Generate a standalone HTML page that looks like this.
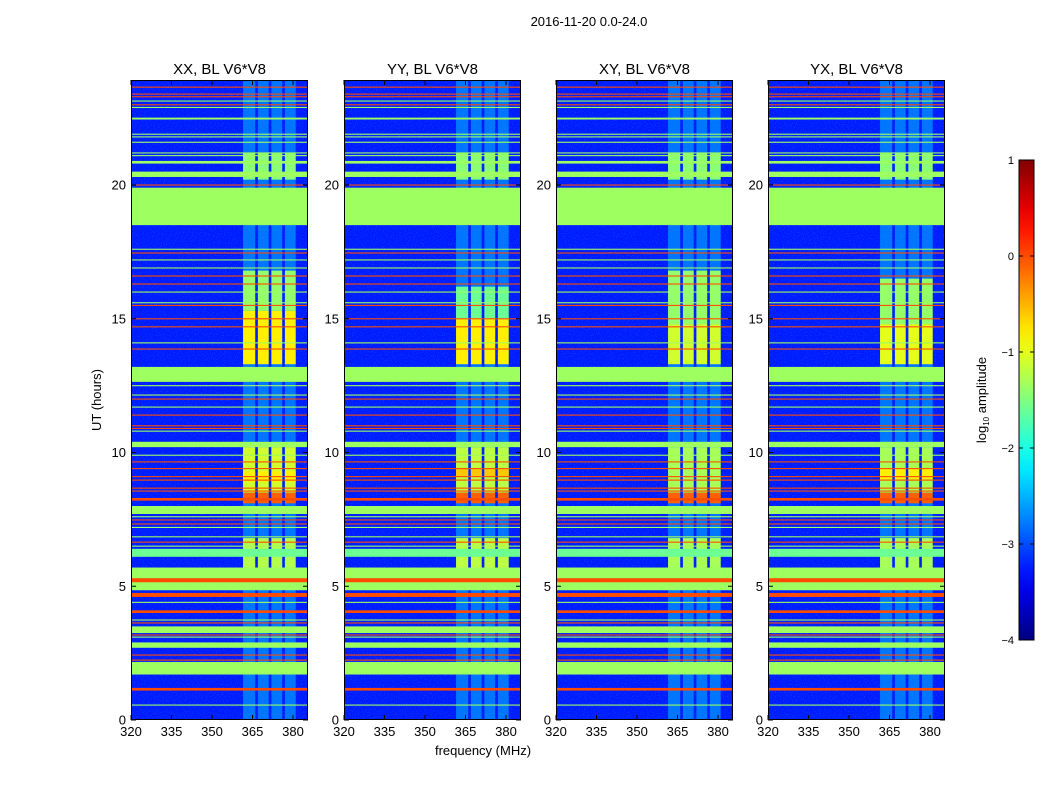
<!DOCTYPE html>
<html><head><meta charset="utf-8"><style>
body{margin:0;background:#fff;}
svg text{font-family:"Liberation Sans",sans-serif;fill:#000;}
</style></head><body>
<svg id="fig" width="1050" height="800" xmlns="http://www.w3.org/2000/svg">
<defs>
<filter id="noise" x="0" y="0" width="100%" height="100%">
<feTurbulence type="fractalNoise" baseFrequency="0.9" numOctaves="1" seed="3" result="t"/>
<feColorMatrix type="matrix" values="0 0 0 0 0  0 0 0 0 0.55  0 0 0 0 1  0 0 0 2.6 -1.35" />
</filter>
<linearGradient id="cbgrad" x1="0" y1="1" x2="0" y2="0"></linearGradient>
</defs>
<text x="589" y="26" font-size="13" text-anchor="middle">2016-11-20 0.0-24.0</text>
<text x="101" y="400" font-size="13" text-anchor="middle" transform="rotate(-90 101 400)">UT (hours)</text>
<text x="483" y="755" font-size="13" text-anchor="middle">frequency (MHz)</text>
<g id="panels"></g>
<g id="cbar"></g>
</svg>
<script>
const panelTitles=["XX, BL V6*V8","YY, BL V6*V8","XY, BL V6*V8","YX, BL V6*V8"];
const panelX=[131,344,556,768];
const xTicks=[320,335,350,365,380];
const yTicks=[0,5,10,15,20];
const cbTicks=[1,0,-1,-2,-3,-4];
// background log amplitude levels
const bgLevel=-3.25;
const rfiLevel=-2.45;
// RFI sub-columns [fStart,fEnd] in MHz
const rfiCols=[[361.5,366],[367,371],[372,376],[377,381]];
// full-width flagged bands [startHour,endHour,log10 amp]
const bands=[
[18.5,19.9,-1.35],[12.64,13.2,-1.35],[20.3,20.5,-1.35],[20.8,20.9,-1.35],
[10.2,10.4,-1.35],[4.85,5.7,-1.35],[5.15,5.3,0.0],[1.7,2.17,-1.35],[2.7,2.9,-1.35],
[3.25,3.5,-1.35],[6.1,6.4,-1.6],[7.7,8.0,-1.35],[1.1,1.2,0.0],[4.0,4.1,0.0],
[4.6,4.75,0.0],[8.2,8.3,0.0]];
// thin lines (hour, log10 amp)
const lineHours=[23.66,23.4,23.3,23.0,20.0,17.46,16.6,16.3,15.5,15.0,14.7,13.87,12.0,
11.4,11.0,10.9,9.65,9.4,9.1,8.97,8.67,8.56,7.48,7.33,6.65,3.63,3.18,2.43,2.24,
23.14,22.9,22.5,22.47,21.9,21.8,21.6,21.2,21.1,17.6,17.2,16.9,16.0,15.6,14.1,12.5,12.15,
11.7,10.8,9.9,7.6,7.2,6.85,6.5,4.4,3.74,3.1,0.56];
const lineVals=[0,0,0,0,0,0,0,0,0,0,0,0,0,
0,0,0,0,0,0,0,0,0,0,0,0,0,0,0,0,
-1.35,-1.35,-1.35,-1.35,-1.35,-1.35,-1.35,-1.35,-1.35,-1.35,-1.35,-1.35,-1.35,-1.35,-1.35,-1.35,-1.35,
-1.35,-1.35,-1.35,-1.35,-1.35,-1.35,-1.35,-1.35,-1.35,-1.35,-1.35];
// bright blocks inside RFI columns [startHour,endHour,log10 amp] per panel
const blocksP1=[[13.3,15.3,-0.8],[15.3,16.8,-1.4],[8.5,10.2,-1.1],[8.1,8.5,-0.1],[8.9,9.3,-0.8],[5.0,6.8,-1.25],[20.2,21.2,-1.45]];
const blocksP2=[[13.3,15.0,-0.8],[15.0,16.2,-1.6],[8.5,10.2,-1.2],[8.1,8.5,-0.1],[9.1,9.4,-0.6],[5.0,6.8,-1.2],[20.2,21.2,-1.45]];
const blocksP3=[[13.3,14.8,-1.1],[14.8,16.8,-1.4],[8.5,10.2,-1.3],[8.1,8.5,-0.1],[5.0,6.8,-1.3],[20.2,21.2,-1.45]];
const blocksP4=[[13.3,14.8,-1.0],[14.8,16.5,-1.4],[8.5,10.2,-1.3],[8.1,8.5,-0.1],[9.0,9.4,-0.8],[5.0,6.8,-1.3],[20.2,21.2,-1.45]];
const panelBlocks=[blocksP1,blocksP2,blocksP3,blocksP4];

const NS="http://www.w3.org/2000/svg";
const PW=177,PT=80,PB=720,FMIN=320,PXMHZ=2.7,PXHR=26.75,VMIN=-4,VMAX=1;
function xs(x0,f){return x0+(f-FMIN)*PXMHZ;}
function ys(h){return PB-h*PXHR;}
function clip(v){return Math.max(0,Math.min(1,v));}
function jet(v){const t=(v-VMIN)/(VMAX-VMIN);
 const r=clip(1.5-Math.abs(4*t-3)),g=clip(1.5-Math.abs(4*t-2)),b=clip(1.5-Math.abs(4*t-1));
 return `rgb(${Math.round(r*255)},${Math.round(g*255)},${Math.round(b*255)})`;}
function mk(tag,attrs,parent){const e=document.createElementNS(NS,tag);for(const k in attrs)e.setAttribute(k,attrs[k]);parent.appendChild(e);return e;}
const G=document.getElementById('panels');
panelX.forEach((x0,pi)=>{
 const g=mk('g',{},G);
 
 
 const clipId='c'+pi;
 const cp=mk('clipPath',{id:clipId},g);mk('rect',{x:x0,y:PT,width:PW,height:PB-PT},cp);
 const h=mk('g',{'clip-path':`url(#${clipId})`},g);
 
 
 mk('rect',{x:x0,y:PT,width:PW,height:PB-PT,fill:jet(bgLevel)},h);
 mk('rect',{x:x0,y:PT,width:PW,height:PB-PT,filter:'url(#noise)',opacity:0.4},h);
 rfiCols.forEach(c=>{
  const r=mk('rect',{x:xs(x0,c[0]),y:PT,width:(c[1]-c[0])*PXMHZ,height:PB-PT,fill:jet(rfiLevel),opacity:0.55},h);
  
  
 });
 panelBlocks[pi].forEach(b=>{rfiCols.forEach(c=>{
  const r=mk('rect',{x:xs(x0,c[0]),y:ys(b[1]),width:(c[1]-c[0])*PXMHZ,height:(b[1]-b[0])*PXHR,fill:jet(b[2])},h);
  
  
 });});
 bands.forEach(b=>{
  const r=mk('rect',{x:x0,y:ys(b[1]),width:PW,height:(b[1]-b[0])*PXHR,fill:jet(b[2])},h);
  
  
 });
 lineHours.forEach((hr,i)=>{
  const r=mk('rect',{x:x0,y:ys(hr)-0.5,width:PW,height:1.1,fill:jet(lineVals[i])},h);
  
  
 });
 mk('rect',{x:x0+0.5,y:PT+0.5,width:PW-1,height:PB-PT-1,fill:'none',stroke:'#000','stroke-width':1},g);
 xTicks.forEach(t=>{const x=xs(x0,t);
  mk('line',{x1:x,x2:x,y1:PB,y2:PB-5,stroke:'#000'},g);
  mk('line',{x1:x,x2:x,y1:PT,y2:PT+5,stroke:'#000'},g);
  const tx=mk('text',{x:x,y:PB+16,'font-size':13,'text-anchor':'middle'},g);tx.textContent=t;
  
  
 });
 yTicks.forEach(t=>{const y=ys(t);
  mk('line',{x1:x0,x2:x0+5,y1:y,y2:y,stroke:'#000'},g);
  mk('line',{x1:x0+PW,x2:x0+PW-5,y1:y,y2:y,stroke:'#000'},g);
  const tx=mk('text',{x:x0-5,y:y+4.5,'font-size':13,'text-anchor':'end'},g);tx.textContent=t;
  
  
 });
 const tt=mk('text',{x:x0+PW/2,y:74,'font-size':15,'text-anchor':'middle'},g);tt.textContent=panelTitles[pi];
 
 
});
// colorbar
const grad=document.getElementById('cbgrad');
for(let i=0;i<=20;i++){mk('stop',{offset:(i/20),'stop-color':jet(VMIN+(VMAX-VMIN)*i/20)},grad);}
const C=document.getElementById('cbar');


const CX=1019,CW=15,CT=160,CB=640;
mk('rect',{x:CX,y:CT,width:CW,height:CB-CT,fill:'url(#cbgrad)',stroke:'#000','stroke-width':1},C);
cbTicks.forEach(t=>{const y=CB-(t-VMIN)/(VMAX-VMIN)*(CB-CT);
 mk('line',{x1:CX,x2:CX+4,y1:y,y2:y,stroke:'#000'},C);
 mk('line',{x1:CX+CW,x2:CX+CW-4,y1:y,y2:y,stroke:'#000'},C);
 const tx=mk('text',{x:CX-5,y:y+4,'font-size':11,'text-anchor':'end'},C);tx.textContent=(t<0?'\u2212'+(-t):t);
 
 
});
const lb=mk('text',{x:986,y:400,'font-size':13,'text-anchor':'middle',transform:'rotate(-90 986 400)'},C);
lb.innerHTML='log<tspan font-size="8" dy="3">10</tspan><tspan dy="-3"> amplitude</tspan>';


</script>
</body></html>
